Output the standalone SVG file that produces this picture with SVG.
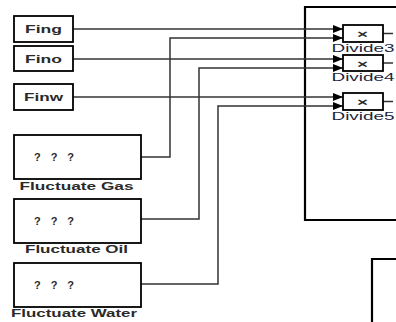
<svg xmlns="http://www.w3.org/2000/svg" width="396" height="322" viewBox="0 0 396 322">
<defs>
<style>
.blk{fill:#fff;stroke:#000;stroke-width:1.8}
.big{fill:none;stroke:#000;stroke-width:2.2}
.w{fill:none;stroke:#333;stroke-width:1.5}
.t{font-family:"Liberation Sans",Arial,sans-serif;font-size:11px;font-weight:bold;fill:#2a2a2a;text-anchor:middle}
.lbl{font-family:"Liberation Sans",Arial,sans-serif;font-size:11px;font-weight:bold;fill:#2a2a2a;text-anchor:middle}
.dl{font-family:"Liberation Sans",Arial,sans-serif;font-size:10.5px;fill:#1c2540;text-anchor:middle}
</style>
<marker id="ar" markerWidth="10" markerHeight="8" refX="10" refY="4" orient="auto" markerUnits="userSpaceOnUse">
<path d="M0,0 L10,4 L0,8 Z" fill="#000"/>
</marker>
</defs>
<rect width="396" height="322" fill="#fff"/>
<g id="subsystem">
<path class="big" d="M398,7 H305 V220 H398"/>
</g>
<g id="subsystem2">
<path class="big" d="M398,259 H372 V324"/>
</g>
<g id="connectors">
<path class="w" d="M73,29 H343" marker-end="url(#ar)"/>
<path class="w" d="M141,157 H170 V38 H343" marker-end="url(#ar)"/>
<path class="w" d="M73,59 H343" marker-end="url(#ar)"/>
<path class="w" d="M141,219 H199 V68 H343" marker-end="url(#ar)"/>
<path class="w" d="M73,97 H343" marker-end="url(#ar)"/>
<path class="w" d="M141,284 H218 V106 H343" marker-end="url(#ar)"/>
<path class="w" d="M383,33.5 H393"/>
<path class="w" d="M383,63 H393"/>
<path class="w" d="M383,101.5 H393"/>
</g>
<g id="Fing">
<rect class="blk" x="14" y="16" width="59" height="26"/>
<text class="t" x="43.5" y="33" textLength="37" lengthAdjust="spacingAndGlyphs">Fing</text>
</g>
<g id="Fino">
<rect class="blk" x="14" y="46" width="59" height="25"/>
<text class="t" x="43.5" y="62.5" textLength="37" lengthAdjust="spacingAndGlyphs">Fino</text>
</g>
<g id="Finw">
<rect class="blk" x="14" y="84" width="59" height="26"/>
<text class="t" x="43.5" y="101" textLength="39" lengthAdjust="spacingAndGlyphs">Finw</text>
</g>
<g id="Divide3">
<rect class="blk" x="343" y="25" width="40" height="17"/>
<text class="t" x="362.5" y="38" font-size="14" textLength="11" lengthAdjust="spacingAndGlyphs">×</text>
<text class="dl" x="363" y="51.5" textLength="63" lengthAdjust="spacingAndGlyphs">Divide3</text>
</g>
<g id="Divide4">
<rect class="blk" x="343" y="55" width="40" height="16"/>
<text class="t" x="362.5" y="67.5" font-size="14" textLength="11" lengthAdjust="spacingAndGlyphs">×</text>
<text class="dl" x="363" y="81" textLength="63" lengthAdjust="spacingAndGlyphs">Divide4</text>
</g>
<g id="Divide5">
<rect class="blk" x="343" y="93" width="40" height="17"/>
<text class="t" x="362.5" y="106" font-size="14" textLength="11" lengthAdjust="spacingAndGlyphs">×</text>
<text class="dl" x="363" y="119.5" textLength="63" lengthAdjust="spacingAndGlyphs">Divide5</text>
</g>
<g id="FluctuateGas">
<rect class="blk" x="14" y="135" width="127" height="44"/>
<text class="t" x="54" y="161" textLength="40" lengthAdjust="spacing">? ? ?</text>
<text class="lbl" x="76.5" y="190" textLength="114" lengthAdjust="spacingAndGlyphs">Fluctuate Gas</text>
</g>
<g id="FluctuateOil">
<rect class="blk" x="14" y="199" width="127" height="44"/>
<text class="t" x="54" y="225" textLength="40" lengthAdjust="spacing">? ? ?</text>
<text class="lbl" x="76.5" y="253" textLength="103" lengthAdjust="spacingAndGlyphs">Fluctuate Oil</text>
</g>
<g id="FluctuateWater">
<rect class="blk" x="14" y="263" width="127" height="44"/>
<text class="t" x="54" y="289" textLength="40" lengthAdjust="spacing">? ? ?</text>
<text class="lbl" x="74" y="317" textLength="126" lengthAdjust="spacingAndGlyphs">Fluctuate Water</text>
</g>
</svg>
